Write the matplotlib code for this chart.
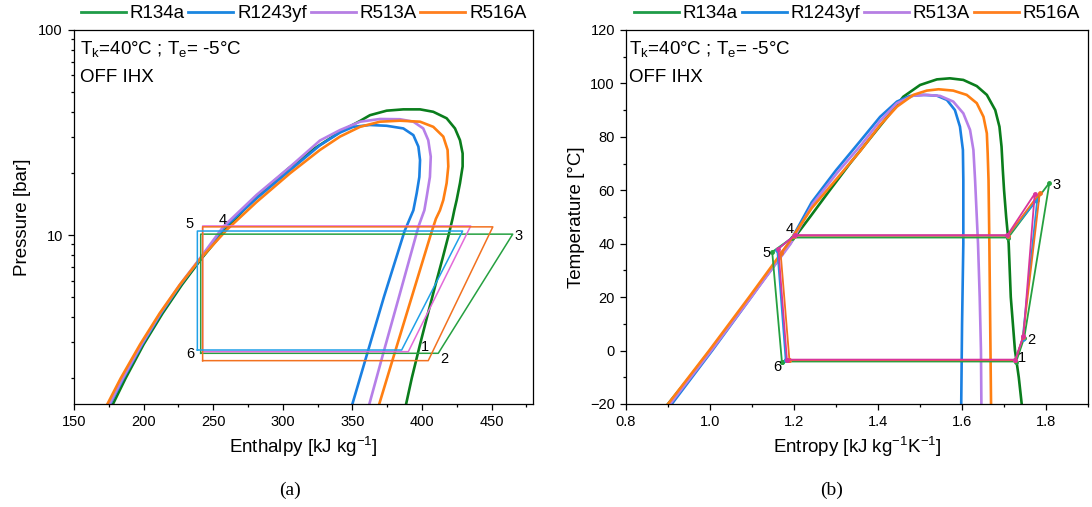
import matplotlib
matplotlib.use("Agg")
import matplotlib.pyplot as plt
from matplotlib.lines import Line2D
from matplotlib.ticker import MultipleLocator, FixedLocator, FixedFormatter, LogLocator, NullFormatter

plt.rcParams['font.family'] = ['Liberation Sans', 'DejaVu Sans']
plt.rcParams['mathtext.fontset'] = 'custom'
plt.rcParams['mathtext.rm'] = 'Liberation Sans'
plt.rcParams['mathtext.default'] = 'regular'

refrigerants = ['R134a', 'R1243yf', 'R513A', 'R516A']

# saturation dome, p-h plane: (h [kJ/kg], P [bar])
r134a_ph_liq = [(178, 1.5), (187, 2.0), (200, 2.93), (213.6, 4.15), (227.5, 5.72), (241.7, 7.7),
                (256.4, 10.17), (271.6, 13.18), (287.5, 16.82), (304.3, 21.17), (322.4, 26.33),
                (343, 32.44), (355.5, 36.0), (362.6, 38.4), (374.6, 40.4), (386.6, 41.0)]
r134a_ph_vap = [(398.6, 41.0), (408.1, 39.9), (417.7, 37.1), (423.7, 33.1), (427.3, 29.0), (429.2, 25.0),
                (429.2, 21.6), (427.3, 17.9), (424.9, 14.8), (423.2, 13.2), (422.0, 12.05), (419.4, 10.17),
                (414.8, 7.7), (409.7, 5.72), (404.3, 4.15), (398.6, 2.93), (392.7, 2.01), (388.6, 1.5)]
r1243yf_ph_liq = [(176, 1.5), (185.5, 2.0), (199, 2.93), (212.5, 4.15), (226.5, 5.72), (241, 7.7),
                  (257.3, 10.8), (281.2, 15.1), (305.2, 20.7), (326.7, 27.4), (341.1, 31.6), (350.6, 33.7),
                  (362.6, 34.4)]
r1243yf_ph_vap = [(374.6, 34.1), (386.6, 33.1), (393.8, 30.7), (397.4, 27.0), (398.6, 23.2), (398.1, 19.2),
                  (396.2, 16.0), (393.8, 13.2), (387.5, 10.46), (372.7, 5.0), (361.4, 2.75), (350, 1.5)]
r513a_ph_liq = [(175.5, 1.5), (185, 2.0), (198.5, 2.93), (212, 4.15), (226, 5.72), (240.5, 7.7),
                (257.3, 11.0), (281.2, 15.7), (305.2, 21.5), (326.7, 28.9), (341.1, 32.5), (355.5, 35.7),
                (369.8, 36.8)]
r513a_ph_vap = [(384.2, 36.7), (393.8, 35.7), (400.9, 33.1), (404.5, 29.0), (406.3, 24.1), (405.7, 19.2),
                (403.4, 15.4), (401.7, 13.2), (397.6, 11.07), (383.5, 5.0), (372.5, 2.7), (362.2, 1.5)]
r516a_ph_liq = [(174, 1.5), (183.5, 2.0), (197.5, 2.93), (211.5, 4.15), (226, 5.72), (241, 7.7),
                (259.7, 10.6), (281.2, 14.5), (305.2, 20.0), (326.7, 26.0), (341.1, 30.2), (355.5, 33.7),
                (369.8, 35.7)]
r516a_ph_vap = [(384.2, 36.1), (398.6, 35.7), (408.1, 33.7), (415.3, 30.2), (418.4, 26.0), (418.9, 21.6),
                (417.7, 17.9), (415.3, 14.8), (412.9, 13.2), (410.0, 12.0), (406.4, 10.1), (392.7, 5.0),
                (378.7, 2.44), (369.3, 1.5)]

# cycle state points 6-1-2-3-4-5, p-h plane
r134a_ph_cycle = [(241, 2.65), (398, 2.65), (411.7, 2.65), (465.2, 10.1), (257.5, 10.1), (241, 10.1)]
r1243yf_ph_cycle = [(238.6, 2.75), (361.4, 2.75), (385.4, 2.75), (429.2, 10.46), (257, 10.46), (238.6, 10.46)]
r513a_ph_cycle = [(242.4, 2.70), (372.5, 2.70), (390.2, 2.70), (435, 11.07), (257.5, 11.07), (242.4, 11.07)]
r516a_ph_cycle = [(242.4, 2.44), (378.7, 2.44), (404.5, 2.44), (450.9, 10.96), (260, 10.96), (242.4, 10.96)]

# saturation dome, T-s plane: (s [kJ/kgK], T [C])
r134a_ts_liq = [(0.900, -20), (0.951, -10), (1.000, 0), (1.049, 10), (1.096, 20), (1.144, 30), (1.190, 40),
                (1.238, 50), (1.285, 60), (1.333, 70), (1.384, 80), (1.430, 89), (1.460, 95.0), (1.500, 99.4),
                (1.540, 101.5)]
r134a_ts_vap = [(1.571, 101.9), (1.603, 101.3), (1.635, 99.0), (1.659, 95.7), (1.679, 90.0), (1.689, 83.8),
                (1.694, 76.3), (1.697, 67.6), (1.700, 60), (1.705, 50), (1.711, 40), (1.716, 20), (1.726, 0),
                (1.735, -10), (1.742, -20)]
r1243yf_ts_liq = [(0.909, -20), (1.005, 0), (1.098, 20), (1.188, 40), (1.242, 55.5), (1.300, 67.5),
                  (1.358, 78.5), (1.405, 87.5), (1.445, 93.2), (1.476, 95.3), (1.508, 95.7)]
r1243yf_ts_vap = [(1.540, 95.4), (1.564, 93.8), (1.583, 90.0), (1.595, 83.8), (1.602, 75.1), (1.603, 63.8),
                  (1.603, 40), (1.600, 10), (1.598, -20)]
r513a_ts_liq = [(0.905, -20), (1.003, 0), (1.098, 20), (1.192, 40), (1.245, 55), (1.303, 66.6),
                (1.360, 77.0), (1.405, 86.0), (1.445, 92.6), (1.484, 95.4), (1.516, 95.7)]
r513a_ts_vap = [(1.548, 95.3), (1.579, 93.2), (1.603, 88.8), (1.619, 82.6), (1.627, 75.1), (1.631, 63.8),
                (1.638, 40), (1.642, 20), (1.645, 0), (1.646, -20)]
r516a_ts_liq = [(0.900, -20), (0.998, 0), (1.093, 20), (1.186, 40), (1.242, 53.3), (1.300, 64.0),
                (1.358, 74.8), (1.405, 84.4), (1.445, 91.3), (1.484, 95.7), (1.516, 97.3), (1.544, 97.8)]
r516a_ts_vap = [(1.579, 97.3), (1.611, 95.7), (1.635, 92.6), (1.651, 87.5), (1.659, 81.3), (1.661, 73.8),
                (1.663, 63.8), (1.665, 40), (1.667, 10), (1.669, -20)]

# cycle state points 6-1-2-3-dew-4-5, T-s plane
r134a_ts_cycle = [(1.171, -4.1), (1.729, -4.1), (1.748, 4.8), (1.808, 62.8), (1.710, 42.3), (1.196, 42.3), (1.148, 36.9)]
r1243yf_ts_cycle = [(1.180, -3.5), (1.727, -3.5), (1.744, 4.5), (1.779, 56.5), (1.709, 43.0), (1.201, 43.0), (1.160, 37.8)]
r516a_ts_cycle = [(1.189, -3.6), (1.727, -3.6), (1.745, 5.0), (1.785, 59.0), (1.709, 43.0), (1.200, 43.0), (1.168, 36.5)]
r513a_ts_cycle = [(1.183, -3.4), (1.727, -3.4), (1.746, 5.4), (1.773, 58.7), (1.708, 43.2), (1.202, 43.2), (1.1625, 38.1)]

# state point labels
ph_labels = {'1': (402.2, 2.83), '2': (415.8, 2.48), '3': (469.5, 9.9),
             '4': (256.5, 11.83), '5': (233.3, 11.27), '6': (233.3, 2.62)}
ts_labels = {'1': (1.743, -2.8), '2': (1.764, 4.1), '3': (1.825, 62.0),
             '4': (1.190, 45.5), '5': (1.135, 36.5), '6': (1.161, -6.3)}

# colours
legend_colors = ['#1f9c48', '#1a86e0', '#b67fe3', '#ff7f1e']
dome_colors = ['#0a7d1c', '#1a80e2', '#b67fe8', '#ff7f12']
cycle_ph_colors = ['#25a040', '#1fa0e8', '#e36ad9', '#f2711f']
cycle_ts_colors = ['#25a040', '#1f96e6', '#d9359c', '#f2711f']


def xy(points):
    return [p[0] for p in points], [p[1] for p in points]


def closed(points):
    return points + [points[0]]


def style_axes(ax):
    for sp in ax.spines.values():
        sp.set_linewidth(0.9)
    ax.tick_params(which='both', direction='out', top=False, right=False, labelsize=10.5, width=0.9)
    ax.tick_params(which='major', length=4.5)
    ax.tick_params(which='minor', length=2.5)


def add_legend(ax):
    handles = [Line2D([], [], color=c, lw=2) for c in legend_colors]
    ax.legend(handles, refrigerants, loc='center', bbox_to_anchor=(0.5, 1.043), ncol=4, frameon=False,
              fontsize=13.5, handlelength=2.4, handletextpad=0.2, columnspacing=0.2, borderpad=0)


fig = plt.figure(figsize=(10.92, 5.07), dpi=100)
ax1 = fig.add_axes([0.0678, 0.2032, 0.4206, 0.7377])
ax2 = fig.add_axes([0.5733, 0.2032, 0.4231, 0.7377])

# ---- (a) pressure - enthalpy ----
ph_domes = [(r134a_ph_liq, r134a_ph_vap), (r1243yf_ph_liq, r1243yf_ph_vap),
            (r513a_ph_liq, r513a_ph_vap), (r516a_ph_liq, r516a_ph_vap)]
for (liq, vap), c in zip(ph_domes, dome_colors):
    h, p = xy(liq + vap)
    ax1.plot(h, p, color=c, lw=1.9, zorder=2, solid_joinstyle='round')

ph_cycles = [r134a_ph_cycle, r1243yf_ph_cycle, r513a_ph_cycle, r516a_ph_cycle]
for i in [0, 2, 3, 1]:
    h, p = xy(closed(ph_cycles[i]))
    ax1.plot(h, p, color=cycle_ph_colors[i], lw=1.1, zorder=3)

for k, (h, p) in ph_labels.items():
    ax1.text(h, p, k, ha='center', va='center', fontsize=10.5)

ax1.set_yscale('log')
ax1.set_xlim(150, 480)
ax1.set_ylim(1.5, 100)
ax1.xaxis.set_major_locator(MultipleLocator(50))
ax1.xaxis.set_minor_locator(MultipleLocator(25))
ax1.yaxis.set_major_locator(FixedLocator([10, 100]))
ax1.yaxis.set_major_formatter(FixedFormatter(['10', '100']))
ax1.yaxis.set_minor_locator(LogLocator(base=10, subs=[2, 3, 4, 5, 6, 7, 8, 9]))
ax1.yaxis.set_minor_formatter(NullFormatter())
ax1.set_xlabel('Enthalpy [kJ kg$^{-1}$]', fontsize=13.5, labelpad=4)
ax1.set_ylabel('Pressure [bar]', fontsize=13.5, labelpad=5)
ax1.text(0.014, 0.975, 'T$_k$=40°C ; T$_e$= -5°C', transform=ax1.transAxes, ha='left', va='top', fontsize=13.5)
ax1.text(0.014, 0.895, 'OFF IHX', transform=ax1.transAxes, ha='left', va='top', fontsize=13.5)
style_axes(ax1)
add_legend(ax1)

# ---- (b) temperature - entropy ----
ts_domes = [(r134a_ts_liq, r134a_ts_vap), (r1243yf_ts_liq, r1243yf_ts_vap),
            (r513a_ts_liq, r513a_ts_vap), (r516a_ts_liq, r516a_ts_vap)]
for (liq, vap), c in zip(ts_domes, dome_colors):
    s, t = xy(liq + vap)
    ax2.plot(s, t, color=c, lw=1.9, zorder=2, solid_joinstyle='round')

ts_cycles = [r134a_ts_cycle, r1243yf_ts_cycle, r513a_ts_cycle, r516a_ts_cycle]
for i in [0, 1, 3, 2]:
    s, t = xy(closed(ts_cycles[i]))
    ax2.plot(s, t, color=cycle_ts_colors[i], lw=1.3, marker='o', ms=2.5, zorder=3)

for k, (s, t) in ts_labels.items():
    ax2.text(s, t, k, ha='center', va='center', fontsize=10.5)

ax2.set_xlim(0.8, 1.9)
ax2.set_ylim(-20, 120)
ax2.xaxis.set_major_locator(MultipleLocator(0.2))
ax2.xaxis.set_minor_locator(MultipleLocator(0.1))
ax2.yaxis.set_major_locator(MultipleLocator(20))
ax2.yaxis.set_minor_locator(MultipleLocator(10))
ax2.xaxis.set_major_formatter(plt.FormatStrFormatter('%.1f'))
ax2.set_xlabel('Entropy [kJ kg$^{-1}$K$^{-1}$]', fontsize=13.5, labelpad=4)
ax2.set_ylabel('Temperature [°C]', fontsize=13.5, labelpad=4)
ax2.text(0.0065, 0.975, 'T$_k$=40°C ; T$_e$= -5°C', transform=ax2.transAxes, ha='left', va='top', fontsize=13.5)
ax2.text(0.0065, 0.895, 'OFF IHX', transform=ax2.transAxes, ha='left', va='top', fontsize=13.5)
style_axes(ax2)
add_legend(ax2)

fig.text(290 / 1092, 1 - 490 / 507, '(a)', ha='center', va='center', fontsize=14, family='Liberation Serif')
fig.text(832 / 1092, 1 - 490 / 507, '(b)', ha='center', va='center', fontsize=14, family='Liberation Serif')

fig.savefig('out.png', dpi=100)
